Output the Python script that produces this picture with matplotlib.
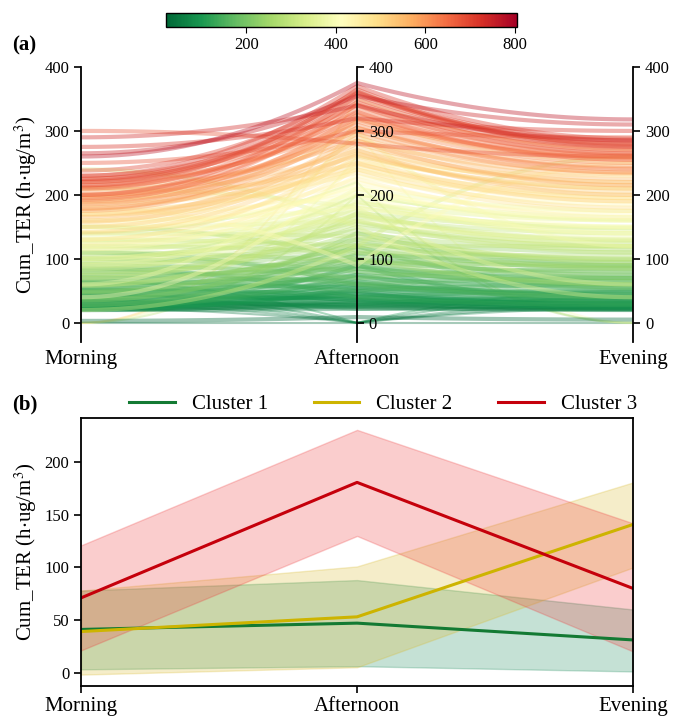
import numpy as np
import matplotlib
matplotlib.use('Agg')
import matplotlib.pyplot as plt
from matplotlib.collections import LineCollection
from matplotlib.colors import Normalize
from matplotlib.cm import ScalarMappable

plt.rcParams['font.family'] = ['Liberation Serif', 'DejaVu Serif']
plt.rcParams['mathtext.fontset'] = 'stix'

periods = ['Morning', 'Afternoon', 'Evening']

# (a) individual daily profiles (Cum_TER per period)
morning = [0, 3, 0, 0, 0, 0, 28, 45, 65, 22, 35, 100, 140, 190,
           22, 25, 20, 30, 28, 35, 24, 40, 32, 45, 22, 50, 38, 26, 55, 60, 30, 48,
           65, 42, 70, 35, 58, 80, 45, 75, 90, 55, 100, 68, 85, 110, 60, 95, 120, 75,
           105, 130, 88, 115, 70, 140, 100, 125, 95, 150, 110, 135, 160, 120, 90, 145,
           170, 130, 155, 115, 175, 140, 185, 160, 130, 195, 170, 150, 200, 180, 165, 210,
           190, 205, 175, 220, 195, 185, 215, 225, 200, 210, 230, 220, 200, 225, 215, 230,
           290, 275, 265, 250, 300, 260, 210, 40, 180, 60, 20, 240,
           20, 33, 26, 52, 23, 85, 40, 110, 35, 150,
           22, 27, 36, 21, 44, 30, 52, 24, 62, 38, 72, 50, 82, 28, 64, 92, 48, 78,
           102, 58, 118, 84, 128, 100, 150, 122, 168, 142, 188, 158, 198, 178, 212,
           192, 222, 238]
afternoon = [0, 9, 200, 260, 320, 350, 0, 0, 0, 0, 0, 200, 220, 300,
             25, 30, 35, 28, 40, 22, 45, 38, 50, 30, 55, 45, 60, 65, 40, 55, 70, 75,
             50, 80, 65, 85, 90, 60, 95, 85, 70, 105, 80, 110, 115, 95, 125, 130, 110, 140,
             145, 120, 155, 160, 165, 135, 170, 175, 180, 160, 190, 195, 180, 205, 210, 215,
             200, 220, 225, 230, 235, 245, 240, 255, 260, 250, 265, 275, 270, 280, 290, 285,
             295, 300, 305, 310, 315, 325, 320, 330, 335, 345, 340, 350, 355, 360, 365, 370,
             340, 320, 355, 300, 280, 375, 180, 250, 90, 300, 120, 150,
             22, 26, 48, 35, 90, 40, 120, 60, 140, 100,
             28, 33, 42, 52, 36, 58, 62, 75, 72, 88, 92, 100, 98, 108, 118, 122, 132, 150,
             158, 172, 168, 188, 185, 200, 210, 240, 248, 268, 262, 285, 305, 318, 328,
             342, 358, 362]
evening = [0, 5, 160, 210, 250, 270, 30, 22, 50, 25, 40, 0, 0, 0,
           20, 24, 28, 22, 30, 26, 35, 25, 28, 40, 45, 30, 42, 38, 50, 35, 55, 40,
           60, 65, 45, 70, 55, 70, 80, 60, 85, 75, 65, 90, 70, 90, 100, 85, 105, 115,
           95, 120, 125, 110, 140, 100, 130, 120, 150, 130, 145, 135, 150, 160, 175, 150,
           140, 170, 165, 185, 175, 190, 180, 195, 210, 190, 205, 215, 200, 220, 225, 215,
           235, 235, 245, 240, 250, 255, 260, 255, 265, 270, 265, 275, 280, 285, 278, 288,
           285, 300, 310, 290, 260, 318, 60, 230, 250, 120, 260, 40,
           21, 35, 22, 25, 30, 28, 55, 40, 90, 60,
           32, 21, 34, 40, 31, 48, 44, 60, 52, 72, 66, 88, 78, 95, 84, 98, 110, 120,
           118, 148, 128, 160, 140, 165, 160, 195, 200, 220, 210, 232, 242, 258, 262,
           272, 282, 276]

# (b) cluster mean profiles and spread
clusters = ['Cluster 1', 'Cluster 2', 'Cluster 3']
c_mean = [[41, 47, 31], [39, 53, 141], [71, 181, 80]]
c_low = [[3, 6, 1], [-2, 5, 100], [21, 130, 20]]
c_high = [[78, 88, 60], [78, 101, 181], [121, 231, 142]]
line_colors = ['#137a33', '#cdb400', '#c5000b']
fill_colors = ['#1b8a5a', '#d9b92a', '#ee3b3b']

fig = plt.figure(figsize=(6.86, 7.2), dpi=100)

# ---- (a) parallel coordinates, curves flat at the outer axes
ax = fig.add_axes([0.118, 0.525, 0.805, 0.382])
vals = np.array([morning, afternoon, evening], dtype=float).T
tot = vals.sum(axis=1)
nonzero = (vals > 0).all(axis=1)
norm = Normalize(20, 805)
line_norm = Normalize(20, 1000)
cmap = plt.get_cmap('RdYlGn_r')
t = np.linspace(0, 1, 30)


def curves(idx):
    out = []
    for i in idx:
        m, a, e = vals[i]
        y1 = m + (a - m) * t ** 2
        y2 = e + (a - e) * (1 - t) ** 2
        out.append(np.column_stack([np.r_[t, 1 + t], np.r_[y1, y2]]))
    return out


zero_idx = np.where(~nonzero)[0]
main_idx = np.where(nonzero)[0]
main_idx = main_idx[np.argsort(tot[main_idx])]
ax.add_collection(LineCollection(curves(zero_idx), colors=cmap(line_norm(tot[zero_idx])),
                                 linewidths=1.5, alpha=0.35))
ax.add_collection(LineCollection(curves(main_idx), colors=cmap(line_norm(tot[main_idx])),
                                 linewidths=3, alpha=0.38))
ax.set_xlim(0, 2)
ax.set_ylim(-30, 400)
for s in ['top', 'bottom', 'right']:
    ax.spines[s].set_visible(False)
ax.spines['left'].set_linewidth(1.3)
ax.set_yticks([0, 100, 200, 300, 400])
ax.set_xticks([0, 1, 2], periods, fontsize=15)
ax.tick_params(axis='x', length=0, pad=6)
ax.tick_params(axis='y', labelsize=12, width=1.2, length=5)
ax.set_ylabel('Cum_TER (h$\\cdot$ug/m$^3$)', fontsize=15)

for pos in [0.5, 1.0]:
    tw = ax.twinx()
    tw.set_ylim(-30, 400)
    tw.set_yticks([0, 100, 200, 300, 400])
    for s in ['top', 'bottom', 'left']:
        tw.spines[s].set_visible(False)
    tw.spines['right'].set_position(('axes', pos))
    tw.spines['right'].set_linewidth(1.3)
    tw.tick_params(axis='y', labelsize=12, width=1.2, length=5)

cax = fig.add_axes([166 / 686, 1 - 27 / 720, 351 / 686, 14 / 720])
cb = fig.colorbar(ScalarMappable(norm=norm, cmap=cmap), cax=cax,
                  orientation='horizontal', ticks=[200, 400, 600, 800])
cb.ax.tick_params(labelsize=12, length=4)
cb.outline.set_linewidth(1.0)

# ---- (b) cluster means
xs = [0, 1, 2]
axb = fig.add_axes([0.118, 0.047, 0.805, 0.372])
for k in range(3):
    axb.fill_between(xs, c_low[k], c_high[k], color=fill_colors[k], alpha=0.25, lw=1)
handles = []
for k in range(3):
    h, = axb.plot(xs, c_mean[k], color=line_colors[k], lw=2.2, label=clusters[k])
    handles.append(h)
axb.set_xlim(0, 2)
axb.set_ylim(-13, 242)
axb.set_yticks([0, 50, 100, 150, 200])
axb.set_xticks(xs, periods, fontsize=15)
axb.tick_params(axis='y', labelsize=12, width=1.2, length=5)
axb.tick_params(axis='x', width=1.2, length=5, pad=3)
for s in axb.spines.values():
    s.set_linewidth(1.3)
axb.set_ylabel('Cum_TER (h$\\cdot$ug/m$^3$)', fontsize=15)

fig.legend(handles=handles, loc='center', bbox_to_anchor=(383 / 686, 1 - 404 / 720),
           ncol=3, frameon=False, fontsize=15, handlelength=2.2, columnspacing=2.2)

fig.text(0.017, 1 - 45 / 720, '(a)', fontsize=15, fontweight='bold', va='center')
fig.text(0.017, 1 - 404 / 720, '(b)', fontsize=15, fontweight='bold', va='center')

fig.savefig('out.png', dpi=100)
